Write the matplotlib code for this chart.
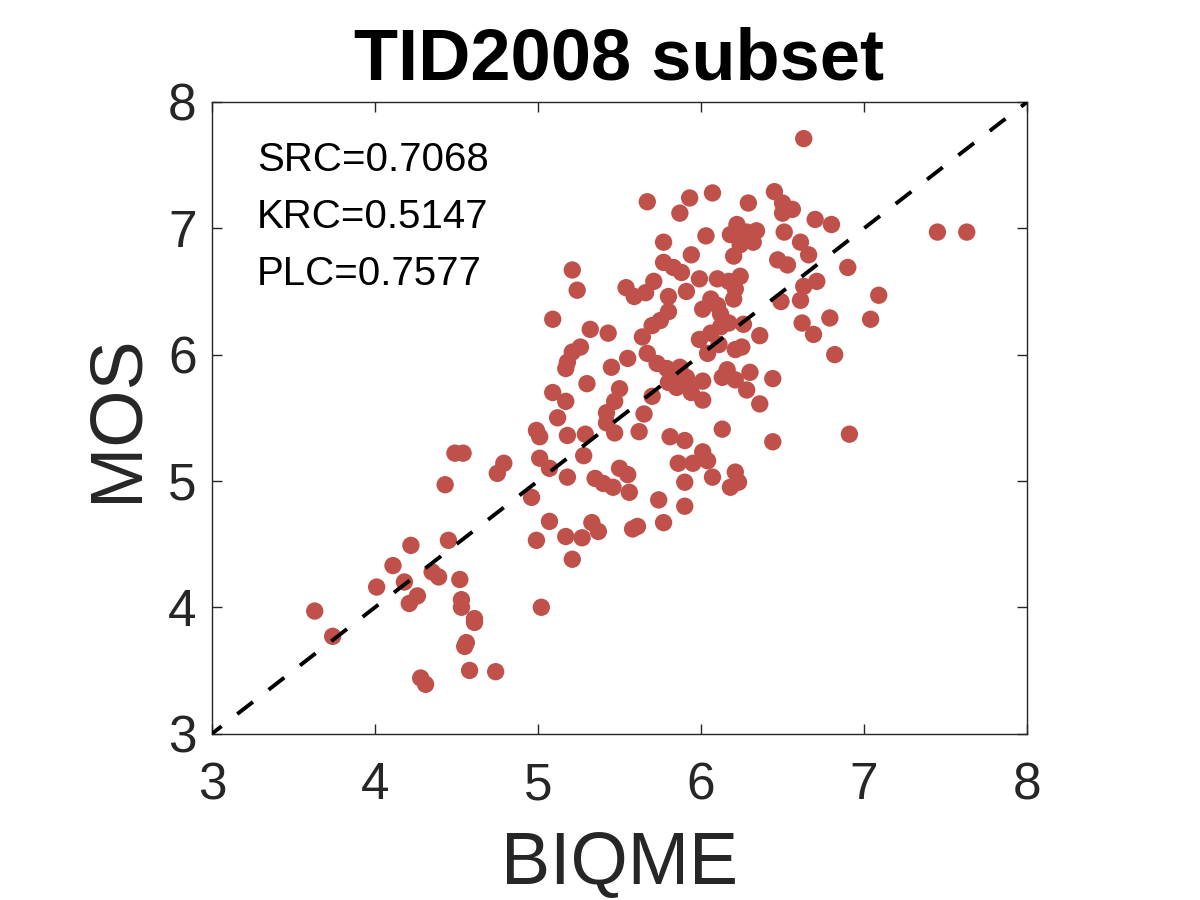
import numpy as np
import matplotlib
matplotlib.use('Agg')
import matplotlib.pyplot as plt

# BIQME predictions (x) vs subjective MOS (y)
biqme = [3.63, 3.74, 4.01, 4.11, 4.18, 4.21, 4.22, 4.26, 4.28, 4.31,
         4.35, 4.39, 4.43, 4.45, 4.49, 4.54, 4.52, 4.53, 4.53, 4.55,
         4.56, 4.58, 4.61, 4.61, 4.74, 4.75, 4.79, 4.96, 4.99, 4.99,
         5.01, 5.01, 5.07, 5.07, 5.09, 5.09, 5.12, 5.17, 5.17, 5.18,
         5.21, 5.26, 5.17, 5.18, 5.18, 5.21, 5.24, 5.21, 5.27, 5.28,
         5.29, 5.30, 5.32, 5.33, 5.37, 5.35, 5.40, 5.43, 5.45, 5.46,
         5.47, 5.42, 5.42, 5.47, 5.50, 5.50, 5.55, 5.56, 5.55, 5.58,
         5.61, 5.54, 5.59, 5.66, 5.71, 5.62, 5.65, 5.64, 5.67, 5.67,
         5.74, 5.77, 5.73, 5.79, 5.83, 5.87, 5.91, 5.80, 5.85, 5.93,
         6.01, 5.94, 6.01, 5.70, 5.70, 5.75, 5.80, 5.77, 5.77, 5.83,
         5.88, 5.80, 5.81, 5.90, 5.86, 5.95, 6.01, 6.04, 5.90, 6.07,
         5.90, 5.87, 5.93, 6.07, 5.91, 5.94, 5.99, 6.03, 6.01, 6.06,
         6.10, 6.12, 6.17, 5.99, 6.06, 6.12, 6.11, 6.04, 6.21, 6.25,
         6.26, 6.13, 6.16, 6.21, 6.20, 6.21, 6.20, 6.10, 6.17, 6.24,
         6.13, 6.18, 6.21, 6.23, 6.22, 6.18, 6.28, 6.34, 6.32, 6.24,
         6.29, 6.28, 6.30, 6.36, 6.36, 6.44, 6.44, 6.45, 6.50, 6.56,
         6.50, 6.49, 6.51, 6.47, 6.53, 6.61, 6.63, 6.71, 6.61, 6.66,
         6.62, 6.69, 6.63, 6.70, 6.79, 6.80, 6.82, 6.90, 6.91, 7.04,
         7.09, 7.45, 7.63, 5.02]

mos = [3.97, 3.77, 4.16, 4.33, 4.20, 4.03, 4.49, 4.09, 3.44, 3.39,
       4.28, 4.24, 4.97, 4.53, 5.22, 5.22, 4.22, 4.06, 4.00, 3.69,
       3.72, 3.50, 3.88, 3.91, 3.49, 5.06, 5.14, 4.87, 4.53, 5.40,
       5.35, 5.18, 5.10, 4.68, 5.70, 6.28, 5.50, 5.63, 5.89, 5.94,
       6.02, 6.06, 4.56, 5.36, 5.03, 6.67, 6.51, 4.38, 4.55, 5.20,
       5.37, 5.77, 6.20, 4.67, 4.60, 5.02, 4.98, 6.17, 5.90, 4.95,
       5.63, 5.54, 5.46, 5.38, 5.73, 5.10, 5.05, 4.91, 5.97, 4.62,
       4.64, 6.53, 6.46, 6.49, 6.58, 5.39, 5.53, 6.14, 6.01, 7.21,
       4.85, 4.67, 5.93, 5.89, 5.86, 5.90, 5.82, 5.78, 5.74, 5.74,
       5.79, 5.70, 5.64, 5.67, 6.23, 6.27, 6.34, 6.89, 6.73, 6.69,
       6.65, 6.46, 5.35, 5.32, 5.14, 5.14, 5.23, 5.16, 4.99, 5.03,
       4.80, 7.12, 7.24, 7.28, 6.50, 6.79, 6.60, 6.94, 6.36, 6.44,
       6.39, 6.32, 6.25, 6.12, 6.17, 6.22, 6.08, 6.01, 6.04, 6.06,
       6.24, 5.82, 5.88, 5.80, 6.78, 6.52, 6.44, 6.60, 6.58, 6.62,
       5.41, 4.95, 5.07, 4.99, 7.03, 6.95, 6.97, 6.98, 6.89, 6.87,
       7.20, 5.72, 5.86, 6.15, 5.61, 5.81, 5.31, 7.29, 7.20, 7.15,
       7.12, 6.42, 6.97, 6.75, 6.71, 6.43, 6.54, 6.58, 6.89, 6.79,
       6.25, 6.16, 7.71, 7.07, 6.29, 7.03, 6.00, 6.69, 5.37, 6.28,
       6.47, 6.97, 6.97, 4.00]

stats_text = ['SRC=0.7068', 'KRC=0.5147', 'PLC=0.7577']
stats_y = [7.45, 7.0, 6.55]

plt.rcParams['font.family'] = ['Liberation Sans', 'DejaVu Sans']

fig = plt.figure(figsize=(12, 9), dpi=100)
ax = fig.add_axes([0.1767, 0.1849, 0.6792, 0.7018])

ax.scatter(biqme, mos, s=156, color='#C0504A', edgecolors='none', zorder=2)
# dashed identity line, dash phase picked so it reaches the top-right corner
ax.plot([3, 8], [3, 8], color='black', linewidth=2.8, zorder=3,
        linestyle=(2.0, (5.1, 5.1)))

for txt, ty in zip(stats_text, stats_y):
    ax.text(3.276, ty, txt, fontsize=29, color='black', va='baseline', ha='left')

ax.set_xlim(3, 8)
ax.set_ylim(3, 8)
ax.set_xticks([3, 4, 5, 6, 7, 8])
ax.set_yticks([3, 4, 5, 6, 7, 8])

ax.tick_params(direction='in', length=7, width=1.0, colors='#262626',
               labelsize=37, top=True, right=True)
ax.tick_params(axis='x', pad=20)
ax.tick_params(axis='y', pad=11)
for sp in ax.spines.values():
    sp.set_color('#262626')
    sp.set_linewidth(1.0)

ax.set_xlabel('BIQME', fontsize=53, color='#262626', labelpad=14)
ax.set_ylabel('MOS', fontsize=53, color='#262626', labelpad=12)
ax.set_title('TID2008 subset', fontsize=52, fontweight='bold', pad=16)

fig.savefig('out.png', dpi=100, facecolor='white')
